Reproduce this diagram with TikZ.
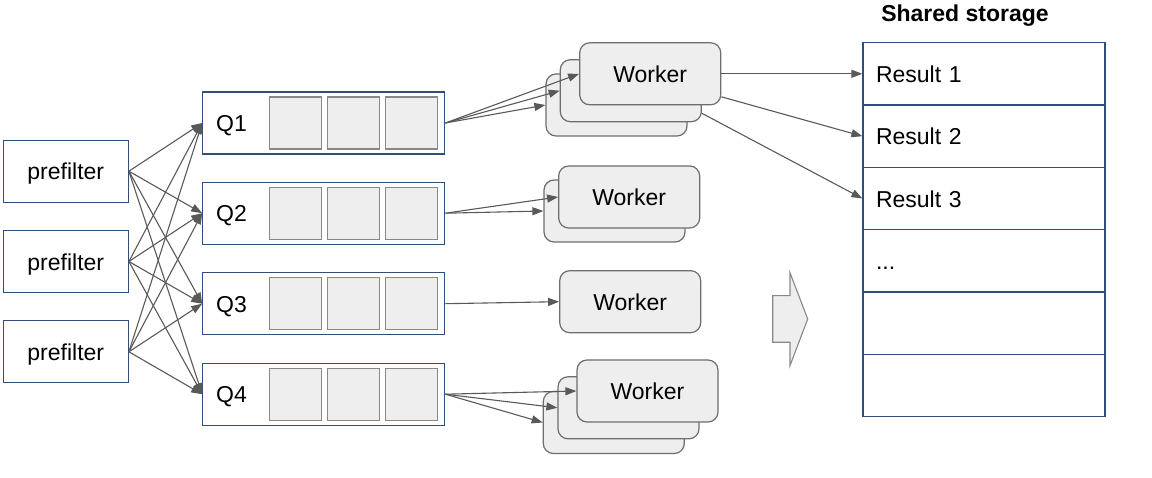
\documentclass[tikz,border=0pt]{standalone}
\usepackage{fontspec}
\setmainfont{Liberation Sans}
\usetikzlibrary{arrows.meta,calc}
\definecolor{bd}{HTML}{2F4F7A}
\definecolor{gl}{HTML}{595959}
\definecolor{cellfill}{HTML}{EEEEEE}
\definecolor{cellbd}{HTML}{888888}
\definecolor{wkbd}{HTML}{6E6E6E}
\begin{document}
\begin{tikzpicture}[x=1pt,y=-1pt,
  every node/.style={font=\fontsize{23}{27}\selectfont, text height=21.5pt, text depth=4pt},
  pf/.style={draw=bd, line width=1.2pt, minimum width=125pt, minimum height=62pt, inner sep=0pt},
  qbox/.style={draw=bd, line width=1.2pt, minimum width=242pt, minimum height=62pt, inner sep=0pt},
  cell/.style={draw=cellbd, fill=cellfill, line width=1.2pt, minimum size=52pt, inner sep=0pt},
  wk/.style={draw=wkbd, fill=cellfill, rounded corners=10pt, line width=1.2pt, minimum width=141pt, minimum height=62pt, inner sep=0pt},
  row/.style={draw=bd, line width=1.2pt, minimum height=62.3pt, text width=216pt, inner xsep=13pt, inner ysep=0pt, align=left},
  qlab/.style={anchor=west, inner sep=0pt},
  conn/.style={draw=gl, line width=1.1pt, -{Triangle[length=11pt,width=8pt]}}
]
\useasboundingbox (0,0) rectangle (1152,478);

% prefilters
\node[pf] (pf1) at (65.8,171.2) {prefilter};
\node[pf] (pf2) at (65.8,261.5) {prefilter};
\node[pf] (pf3) at (65.8,351.8) {prefilter};

% queues
\foreach \i/\y in {1/123,2/213.2,3/303.7,4/394.2}{
  \node[qbox] (q\i) at (323.8,\y) {};
  \node[qlab] (ql\i) at (216,\y) {Q\i};
  \node[cell] (c\i a) at (295.7,\y) {};
  \node[cell] (c\i b) at (353.7,\y) {};
  \node[cell] (c\i c) at (411.7,\y) {};
}

% workers group 1
\node[wk] (w1c) at (616.5,105) {};
\node[wk] (w1b) at (630.8,90.7) {};
\node[wk] (w1a) at (650.2,73.8) {Worker};
% group 2
\node[wk] (w2b) at (614.5,211) {};
\node[wk] (w2a) at (629.2,197) {Worker};
% group 3
\node[wk] (w3) at (630.2,301.7) {Worker};
% group 4
\node[wk] (w4c) at (613.8,422.5) {};
\node[wk] (w4b) at (628.5,407.8) {};
\node[wk] (w4a) at (647.5,391) {Worker};

% storage
\node[font=\fontsize{23}{27}\selectfont\bfseries, inner sep=0pt] (title) at (965,12.5) {Shared storage};
\node[row] (r1) at (984,73.8) {Result 1};
\node[row] (r2) at (984,136.2) {Result 2};
\node[row] (r3) at (984,198.5) {Result 3};
\node[row] (r4) at (984,260.8) {...};
\node[row] (r5) at (984,323.2) {};
\node[row] (r6) at (984,385.5) {};

% block arrow
\draw[fill=cellfill, draw=cellbd, line width=1.1pt] (772.7,295.7) -- (790,295.7) -- (790,272.7) -- (807.7,319) -- (790,365.7) -- (790,342.3) -- (772.7,342.3) -- cycle;

% prefilter -> queues
\foreach \p in {pf1,pf2,pf3}{
  \foreach \q in {q1,q2,q3,q4}{
    \draw[conn] (\p.east) -- (\q.west);
  }
}

% queues -> workers
\draw[conn] (q1.east) -- (w1a.west);
\draw[conn] (q1.east) -- (w1b.west);
\draw[conn] (q1.east) -- (w1c.west);
\draw[conn] (q2.east) -- (w2a.west);
\draw[conn] (q2.east) -- (w2b.west);
\draw[conn] (q3.east) -- (w3.west);
\draw[conn] (q4.east) -- (w4a.west);
\draw[conn] (q4.east) -- (w4b.west);
\draw[conn] (q4.east) -- (w4c.west);

% workers -> storage
\draw[conn] (w1a.east) -- (r1.west);
\draw[conn] ([yshift=-23pt]w1a.east) -- (r2.west);
\draw[conn] ([yshift=-22.6pt]w1b.east) -- (r3.west);
\end{tikzpicture}
\end{document}
